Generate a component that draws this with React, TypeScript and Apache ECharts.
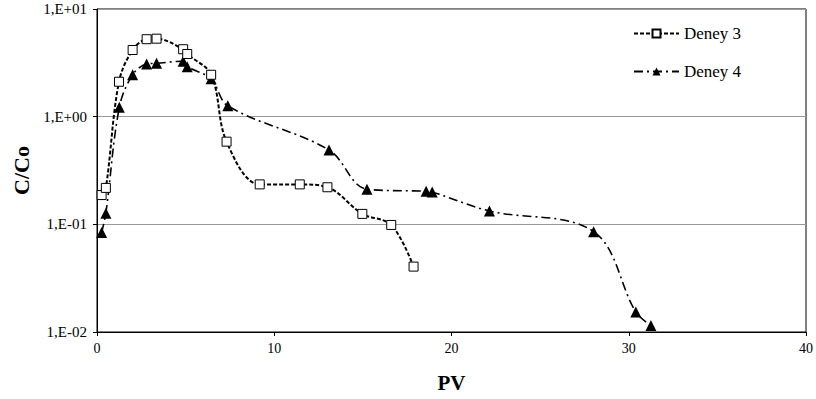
import React, { useEffect, useRef } from "react";
import * as echarts from "echarts";

const deney3X = [0.26, 0.5, 1.24, 2.01, 2.8, 3.36, 4.86, 5.09, 6.44, 7.31, 9.18, 11.44, 13.0, 14.97, 16.6, 17.86];
const deney3Y = [0.187, 0.218, 2.11, 4.16, 5.24, 5.3, 4.23, 3.82, 2.45, 0.586, 0.235, 0.235, 0.221, 0.125, 0.0987, 0.0405];

const deney4X = [0.26, 0.5, 1.26, 2.01, 2.8, 3.36, 4.86, 5.09, 6.44, 7.38, 13.09, 15.23, 18.57, 18.91, 22.14, 28.02, 30.4, 31.25];
const deney4Y = [0.0838, 0.127, 1.22, 2.45, 3.08, 3.13, 3.27, 2.91, 2.25, 1.26, 0.49, 0.212, 0.203, 0.2, 0.133, 0.0855, 0.0153, 0.0115];

const yTickLabels: Record<string, string> = {
  "0.01": "1,E-02",
  "0.1": "1,E-01",
  "1": "1,E+00",
  "10": "1,E+01",
};

const FONT = "'Liberation Serif', 'Times New Roman', serif";

export default function App() {
  const ref = useRef<HTMLDivElement>(null);
  useEffect(() => {
    document.body.style.margin = "0";
    if (!ref.current) return;
    const chart = echarts.init(ref.current, undefined, { renderer: "svg" });
    const pair = (xs: number[], ys: number[]) => xs.map((x, i) => [x, ys[i]]);
    chart.setOption({
      animation: false,
      backgroundColor: "#fff",
      textStyle: { fontFamily: FONT },
      grid: {
        left: 97,
        right: 9,
        top: 9,
        bottom: 67,
        show: true,
        borderColor: "#000",
        borderWidth: 1,
      },
      legend: {
        orient: "vertical",
        left: 628,
        top: 20,
        itemGap: 21,
        itemWidth: 45,
        itemHeight: 10,
        textStyle: { fontFamily: FONT, fontSize: 17, color: "#000" },
        data: ["Deney 3", "Deney 4"],
      },
      xAxis: {
        type: "value",
        min: 0,
        max: 40,
        interval: 10,
        name: "PV",
        nameLocation: "middle",
        nameGap: 40,
        nameTextStyle: { fontFamily: FONT, fontSize: 21, fontWeight: "bold", color: "#000" },
        axisLine: { lineStyle: { color: "#000", width: 1 } },
        axisTick: { show: true, inside: false, length: 4, lineStyle: { color: "#000" } },
        axisLabel: { fontFamily: FONT, fontSize: 14, color: "#000", margin: 9 },
        splitLine: { show: false },
      },
      yAxis: {
        type: "log",
        logBase: 10,
        min: 0.01,
        max: 10,
        name: "C/Co",
        nameLocation: "middle",
        nameGap: 57,
        nameRotate: 90,
        nameTextStyle: { fontFamily: FONT, fontSize: 22, fontWeight: "bold", color: "#000" },
        axisLine: { show: true, lineStyle: { color: "#000", width: 1 } },
        axisTick: { show: true, inside: false, length: 4, lineStyle: { color: "#000" } },
        axisLabel: {
          fontFamily: FONT,
          fontSize: 15,
          color: "#000",
          margin: 10,
          formatter: (v: number) => {
            const k = String(parseFloat(v.toPrecision(3)));
            return yTickLabels[k] ?? "";
          },
        },
        splitLine: { show: true, lineStyle: { color: "#999", width: 1 } },
      },
      series: [
        {
          name: "Deney 3",
          type: "line",
          data: pair(deney3X, deney3Y),
          smooth: 0.35,
          symbol: "rect",
          symbolSize: 9,
          itemStyle: { color: "#fff", borderColor: "#000", borderWidth: 1 },
          lineStyle: { color: "#000", width: 2, type: [4, 2] },
          z: 3,
        },
        {
          name: "Deney 4",
          type: "line",
          data: pair(deney4X, deney4Y),
          smooth: 0.35,
          symbol: "triangle",
          symbolSize: 11,
          itemStyle: { color: "#000", borderColor: "#000", borderWidth: 0 },
          lineStyle: { color: "#000", width: 1.6, type: [9, 4, 2, 4] },
          z: 2,
        },
      ],
    });
    return () => chart.dispose();
  }, []);
  return <div ref={ref} style={{ width: 816, height: 399 }} />;
}
